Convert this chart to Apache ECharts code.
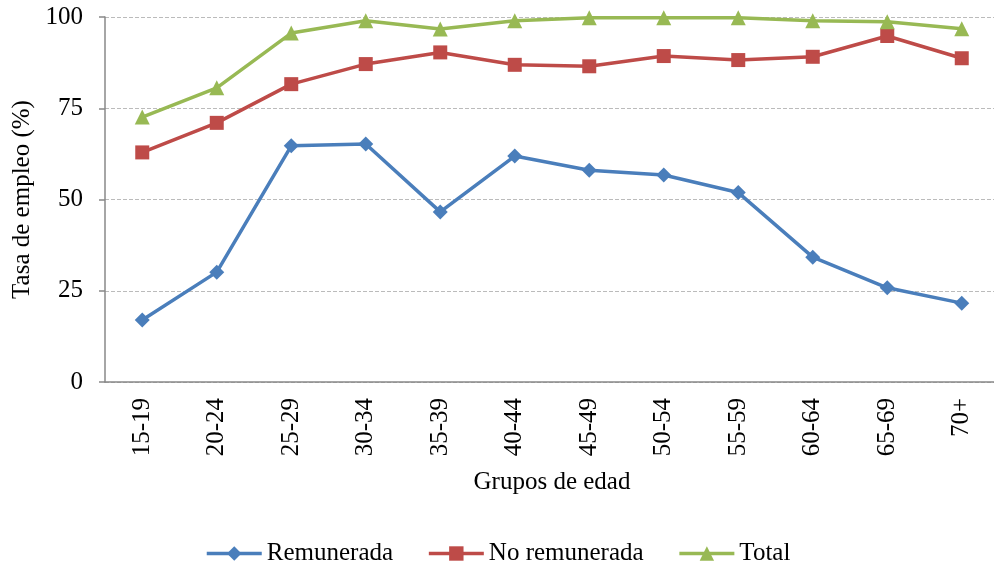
<!DOCTYPE html>
<html>
<head>
<meta charset="utf-8">
<script src="https://cdn.jsdelivr.net/npm/echarts@6/dist/echarts.min.js"></script>
<style>
  html, body { margin: 0; padding: 0; background: #fff; }
  #main { width: 994px; height: 573px; }
</style>
</head>
<body>
<div id="main"></div>
<script>
var categorias = ["15-19", "20-24", "25-29", "30-34", "35-39", "40-44", "45-49", "50-54", "55-59", "60-64", "65-69", "70+"];
var remunerada = [17.0, 30.1, 64.7, 65.2, 46.6, 61.9, 58.0, 56.7, 51.9, 34.2, 25.8, 21.6];
var noRemunerada = [62.9, 71.0, 81.6, 87.1, 90.3, 86.9, 86.5, 89.3, 88.2, 89.1, 94.8, 88.7];
var total = [72.6, 80.6, 95.6, 99.0, 96.7, 99.0, 99.8, 99.8, 99.8, 99.0, 98.7, 96.8];

var fuente = "'Liberation Serif', 'Times New Roman', serif";
var colores = ["#4a7ebb", "#be4b48", "#98b954"];

var myChart = echarts.init(document.getElementById("main"));

var option = {
  color: colores,
  textStyle: { fontFamily: fuente, color: "#000" },
  animation: false,
  legend: {
    top: 536,
    left: 200,
    itemWidth: 55,
    itemHeight: 18,
    itemGap: 34,
    lineStyle: { width: 3.5 },
    textStyle: { fontFamily: fuente, fontSize: 25, color: "#000" },
    data: ["Remunerada", "No remunerada", "Total"]
  },
  grid: {
    left: 105,
    top: 17,
    width: 894,
    bottom: 191,
    outerBoundsMode: "none"
  },
  xAxis: {
    type: "category",
    data: categorias,
    name: "Grupos de edad",
    nameLocation: "middle",
    nameGap: 88,
    nameTextStyle: { fontFamily: fuente, fontSize: 25, color: "#000" },
    axisLine: { lineStyle: { color: "#888", width: 1.5 } },
    axisTick: { length: 6, lineStyle: { color: "#888", width: 1.5 } },
    axisLabel: {
      rotate: 90,
      margin: 16,
      interval: 0,
      fontFamily: fuente,
      fontSize: 25,
      color: "#000"
    }
  },
  yAxis: {
    type: "value",
    min: 0,
    max: 100,
    interval: 25,
    name: "Tasa de empleo (%)",
    nameLocation: "middle",
    nameGap: 66,
    nameTextStyle: { fontFamily: fuente, fontSize: 25, color: "#000" },
    axisLine: { show: true, lineStyle: { color: "#888", width: 1.5 } },
    axisTick: { show: true, length: 6, lineStyle: { color: "#888", width: 1.5 } },
    axisLabel: { margin: 22, fontFamily: fuente, fontSize: 25, color: "#000" },
    splitLine: { lineStyle: { color: "#bbb", type: "dashed", width: 1 } }
  },
  series: [
    {
      name: "Remunerada",
      type: "line",
      data: remunerada,
      symbol: "diamond",
      symbolSize: 15,
      lineStyle: { width: 3.5 },
      itemStyle: { color: colores[0] }
    },
    {
      name: "No remunerada",
      type: "line",
      data: noRemunerada,
      symbol: "rect",
      symbolSize: 14,
      lineStyle: { width: 3.5 },
      itemStyle: { color: colores[1] }
    },
    {
      name: "Total",
      type: "line",
      data: total,
      symbol: "triangle",
      symbolSize: 15,
      lineStyle: { width: 3.5 },
      itemStyle: { color: colores[2] }
    }
  ]
};

myChart.setOption(option);
</script>
</body>
</html>
